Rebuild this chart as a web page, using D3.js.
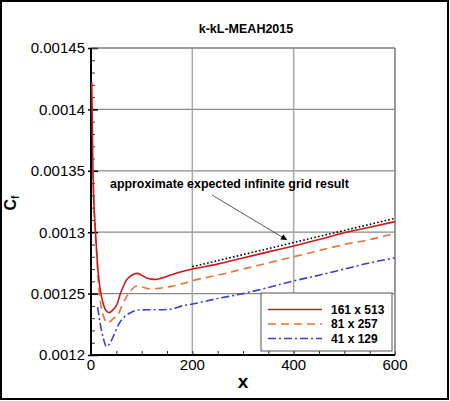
<!DOCTYPE html>
<html>
<head>
<meta charset="utf-8">
<script src="https://cdn.jsdelivr.net/npm/d3@7"></script>
<style>
  body { margin: 0; background: #fff; }
  svg { display: block; font-family: "Liberation Sans", Arial, Helvetica, sans-serif; }
</style>
</head>
<body>
<svg width="450" height="401"></svg>
<script>
// grid 161 x 513
var fineX = [1.5, 2.5, 3.5, 4.5, 6, 8, 10, 12, 14, 18, 24, 30, 36, 44, 52, 58, 64, 70, 77, 85, 91, 100, 110, 120, 128, 140, 160, 180, 200, 250, 300, 350, 400, 450, 500, 550, 600];
var fineCf = [0.001422, 0.00139, 0.00136, 0.001338, 0.00132, 0.001306, 0.001292, 0.001279, 0.001268, 0.001254, 0.001242, 0.001236, 0.0012345, 0.001237, 0.001242, 0.00125, 0.001256, 0.001261, 0.001264, 0.001266, 0.0012665, 0.001265, 0.0012628, 0.0012618, 0.0012616, 0.0012628, 0.0012655, 0.001268, 0.00127, 0.001274, 0.001279, 0.001284, 0.0012888, 0.001294, 0.0012995, 0.001304, 0.0013086];

// grid 81 x 257
var medX = [4, 6, 8, 10, 12, 14, 17, 21, 26, 31, 37, 45, 53, 61, 69, 78, 89, 100, 115, 130, 156, 180, 200, 250, 300, 350, 400, 450, 500, 550, 600];
var medCf = [0.00135, 0.001322, 0.001305, 0.00129, 0.001276, 0.001262, 0.001248, 0.001237, 0.00123, 0.0012263, 0.001227, 0.00123, 0.0012326, 0.00124, 0.001247, 0.001252, 0.001256, 0.0012555, 0.001254, 0.0012542, 0.0012557, 0.001258, 0.0012605, 0.001265, 0.00127, 0.001275, 0.00128, 0.001285, 0.00129, 0.001294, 0.0012991];

// grid 41 x 129
var coarseX = [13, 18, 24, 31, 38, 46, 56, 66, 76, 92, 110, 130, 156, 180, 200, 250, 300, 350, 400, 450, 500, 550, 600];
var coarseCf = [0.001239, 0.001226, 0.001214, 0.0012068, 0.00121, 0.001217, 0.001226, 0.001231, 0.001234, 0.0012366, 0.0012368, 0.0012368, 0.0012372, 0.00124, 0.0012415, 0.001246, 0.00125, 0.001255, 0.0012603, 0.001265, 0.00127, 0.001275, 0.0012792];

// approximate infinite grid result
var infX = [200, 600];
var infCf = [0.0012719, 0.0013113];

var seriesNames = ["161 x 513", "81 x 257", "41 x 129"];
var xTicks = [0, 200, 400, 600];
var yTicks = [0.0012, 0.00125, 0.0013, 0.00135, 0.0014, 0.00145];
var yTickLabels = ["0.0012", "0.00125", "0.0013", "0.00135", "0.0014", "0.00145"];

var svg = d3.select("svg");
var pLeft = 91, pRight = 395, pTop = 48, pBottom = 355;

var x = d3.scaleLinear().domain([0, 600]).range([pLeft, pRight]);
var y = d3.scaleLinear().domain([0.0012, 0.00145]).range([pBottom, pTop]);

// outer frame
svg.append("rect")
  .attr("x", 1).attr("y", 1)
  .attr("width", 447).attr("height", 398)
  .attr("fill", "#fff")
  .attr("stroke", "#000")
  .attr("stroke-width", 2);

// grid
svg.append("g").selectAll("line")
  .data(yTicks.slice(1))
  .enter().append("line")
  .attr("x1", pLeft).attr("x2", pRight)
  .attr("y1", d => y(d)).attr("y2", d => y(d))
  .attr("stroke", "#8a8a8a")
  .attr("stroke-width", 1.2);

svg.append("g").selectAll("line")
  .data(xTicks.slice(1))
  .enter().append("line")
  .attr("x1", d => x(d)).attr("x2", d => x(d))
  .attr("y1", pTop).attr("y2", pBottom)
  .attr("stroke", "#a8a8a8")
  .attr("stroke-width", 1.5);

// axes (ticks inside)
var xAxis = d3.axisBottom(x).tickValues(d3.range(0, 601, 50)).tickSize(-4).tickFormat("");
var yAxis = d3.axisLeft(y).tickValues(d3.range(0, 26).map(i => 0.0012 + i * 0.00001)).tickSize(-4).tickFormat("");

var gx = svg.append("g").attr("transform", "translate(0," + pBottom + ")").call(xAxis);
var gy = svg.append("g").attr("transform", "translate(" + pLeft + ",0)").call(yAxis);
[gx, gy].forEach(g => {
  g.select(".domain").remove();
  g.selectAll(".tick line").attr("stroke", "#333").attr("stroke-width", 1);
});
// major y ticks, longer
gy.selectAll(".tick line")
  .filter((d, i) => i % 5 === 0)
  .attr("x1", -3).attr("x2", 7).attr("stroke", "#000").attr("stroke-width", 1.5);

svg.append("line").attr("x1", pLeft).attr("x2", pRight).attr("y1", pTop).attr("y2", pTop)
  .attr("stroke", "#777").attr("stroke-width", 1);
svg.append("line").attr("x1", pRight).attr("x2", pRight).attr("y1", pTop).attr("y2", pBottom)
  .attr("stroke", "#777").attr("stroke-width", 1);
svg.append("line").attr("x1", pLeft).attr("x2", pLeft).attr("y1", pTop).attr("y2", pBottom + 1)
  .attr("stroke", "#000").attr("stroke-width", 2);
svg.append("line").attr("x1", pLeft - 1).attr("x2", pRight).attr("y1", pBottom).attr("y2", pBottom)
  .attr("stroke", "#000").attr("stroke-width", 2);

// tick labels
svg.append("g").selectAll("text")
  .data(yTicks)
  .enter().append("text")
  .attr("x", 85)
  .attr("y", d => y(d))
  .attr("dy", "0.36em")
  .attr("text-anchor", "end")
  .attr("font-size", 15)
  .text((d, i) => yTickLabels[i]);

svg.append("g").selectAll("text")
  .data(xTicks)
  .enter().append("text")
  .attr("x", d => x(d))
  .attr("y", 370)
  .attr("text-anchor", "middle")
  .attr("font-size", 15)
  .text(d => d);

// curves
var line = d3.line()
  .x(d => x(d[0]))
  .y(d => y(d[1]))
  .curve(d3.curveMonotoneX);

var series = [
  { xs: fineX, ys: fineCf, color: "#cc1a1a", dash: null },
  { xs: medX, ys: medCf, color: "#f07030", dash: "8,5" },
  { xs: coarseX, ys: coarseCf, color: "#3a3ae6", dash: "8,3,2,3" }
];

svg.append("path")
  .datum(d3.zip(infX, infCf))
  .attr("d", line)
  .attr("fill", "none")
  .attr("stroke", "#000")
  .attr("stroke-width", 1.6)
  .attr("stroke-dasharray", "1.6,2.2");

series.slice().reverse().forEach(s => {
  svg.append("path")
    .datum(d3.zip(s.xs, s.ys))
    .attr("d", line)
    .attr("fill", "none")
    .attr("stroke", s.color)
    .attr("stroke-width", 1.6)
    .attr("stroke-dasharray", s.dash);
});

// annotation
svg.append("text")
  .attr("x", 110).attr("y", 188)
  .attr("font-size", 12.4).attr("font-weight", "bold")
  .text("approximate expected infinite grid result");

svg.append("defs").append("marker")
  .attr("id", "arrow")
  .attr("viewBox", "0 0 10 10")
  .attr("refX", 10).attr("refY", 5)
  .attr("markerWidth", 11).attr("markerHeight", 6)
  .attr("markerUnits", "userSpaceOnUse")
  .attr("orient", "auto")
  .append("path").attr("d", "M0,0L10,5L0,10z").attr("fill", "#000");

svg.append("line")
  .attr("x1", 212).attr("y1", 195)
  .attr("x2", 287).attr("y2", 240)
  .attr("stroke", "#333").attr("stroke-width", 0.8)
  .attr("marker-end", "url(#arrow)");

// legend
var legend = svg.append("g");
legend.append("rect")
  .attr("x", 261).attr("y", 293)
  .attr("width", 131).attr("height", 58)
  .attr("fill", "#fff")
  .attr("stroke", "#555").attr("stroke-width", 1);

series.forEach((s, i) => {
  var ly = 309.5 + i * 14.5;
  legend.append("line")
    .attr("x1", 268).attr("x2", 322)
    .attr("y1", ly).attr("y2", ly)
    .attr("stroke", s.color).attr("stroke-width", 1.6)
    .attr("stroke-dasharray", s.dash);
  legend.append("text")
    .attr("x", 331).attr("y", ly).attr("dy", "0.36em")
    .attr("font-size", 12).attr("font-weight", "bold")
    .text(seriesNames[i]);
});

// titles
svg.append("text")
  .attr("x", 246).attr("y", 33)
  .attr("text-anchor", "middle")
  .attr("font-size", 12.5).attr("font-weight", "bold")
  .text("k-kL-MEAH2015");

svg.append("text")
  .attr("x", 243).attr("y", 388)
  .attr("text-anchor", "middle")
  .attr("font-size", 19).attr("font-weight", "bold")
  .text("x");

var yl = svg.append("text")
  .attr("transform", "translate(16,203) rotate(-90)")
  .attr("text-anchor", "middle")
  .attr("font-size", 16).attr("font-weight", "bold");
yl.append("tspan").text("C");
yl.append("tspan").attr("font-size", 10).attr("dy", 3).text("f");
</script>
</body>
</html>
